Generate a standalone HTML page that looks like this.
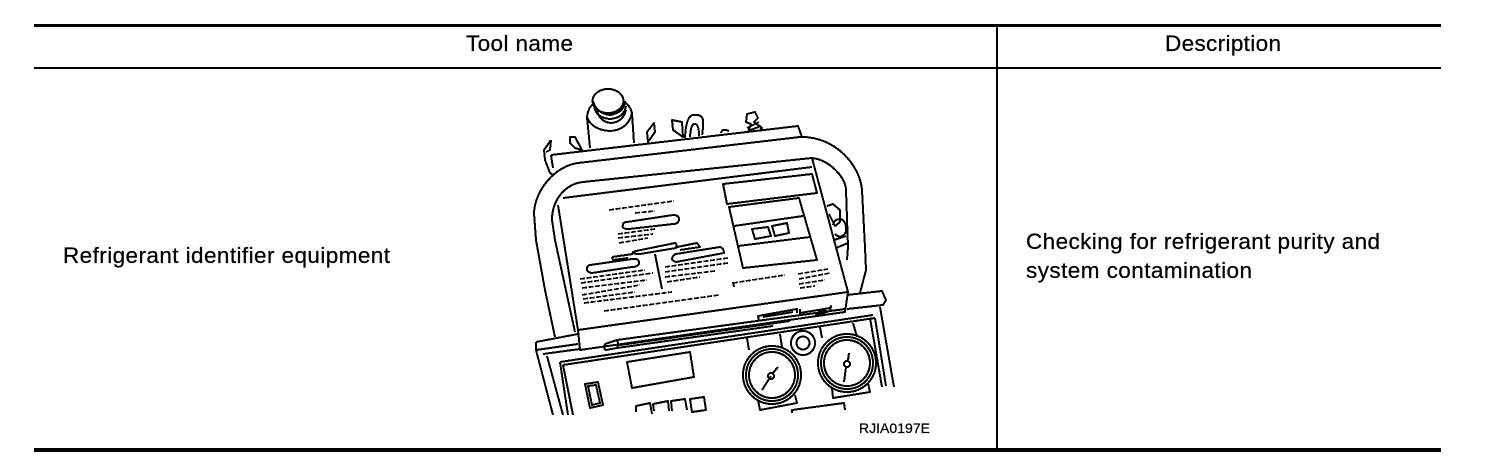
<!DOCTYPE html>
<html><head><meta charset="utf-8"><style>
html,body{margin:0;padding:0;background:#fff}
svg{display:block}
text{font-family:"Liberation Sans",sans-serif;font-size:22.500px;fill:#000;stroke:#000;stroke-width:.25}
.d path,.d polyline,.d line,.d circle,.d ellipse{fill:none;stroke:#000;stroke-width:2;stroke-linejoin:round}
.d .t{stroke-dasharray:5 1.5;stroke-width:1.7}
</style></head><body>
<svg width="1504" height="456" viewBox="0 0 1504 456" xmlns="http://www.w3.org/2000/svg">
<rect width="1504" height="456" fill="#fff"/>
<rect x="34" y="24" width="1407" height="3"/>
<rect x="34" y="67" width="1407" height="2"/>
<rect x="34" y="448" width="1407" height="4"/>
<rect x="996" y="24" width="2" height="426"/>
<text x="466" y="51" textLength="107">Tool name</text>
<text x="1165" y="51" textLength="116">Description</text>
<text x="63" y="263" textLength="327">Refrigerant identifier equipment</text>
<text x="1026" y="249" textLength="354">Checking for refrigerant purity and</text>
<text x="1026" y="278" textLength="226">system contamination</text>
<text x="859" y="433" style="font-size:14px" textLength="71">RJIA0197E</text>
<g class="d" shape-rendering="crispEdges">
<!-- cylinder -->
<path d="M590 148L587 117Q588 108 593 104M632 113L634 143M632 113Q630 105 624 102"/>
<path d="M594 106Q596 118 610 119Q624 118 626 106M593 101Q596 113 610 115Q624 113 625 101M597 111Q600 122 611 123Q623 122 626 110M587 117Q592 130 610 131Q628 130 632 113"/>
<ellipse cx="608" cy="101" rx="15.500" ry="12"/>
<!-- leaves -->
<path d="M551 140L544 150L545 160L550 173L553 175M551 140L550 150L546 152"/>
<path d="M570 137L575 137L582 150L575 148L570 143Z"/>
<path d="M654 123L647 132L648 142L655 132Z"/>
<path d="M672 120L682 122L683 137L673 130Z"/>
<path d="M685 138Q686 116 693 115Q702 114 703 120Q703 132 702 135M690 137Q691 123 695 124Q699 124 699 136"/>
<path d="M721 133Q722 129 726 130L729 131"/>
<!-- top fitting -->
<path d="M748 132L751 124L746 122L747 114L755 112L758 118L754 122L762 128L760 129M747 128L759 122M748 131L761 126"/>
<!-- back panel -->
<path d="M551 155L798 126L802 137"/>
<path d="M551 155L553 168"/>
<!-- tube outer -->
<path d="M545 290L536 240L534 213C535 190 555 166 578 163L800 137C835 136 860 165 862 190L865 247L866 270L860 293"/>
<path d="M545 290L555 337"/>
<!-- tube inner -->
<path d="M575 332L555 240L552 220C552 200 565 184 583 182L812 158C830 160 846 178 846 190L848 247L847 260"/>
<!-- fitting right -->
<path d="M827 206L833 204L840 210L840 222L835 226L829 214M833 225Q834 219 841 219Q847 222 846 232Q841 240 835 234M834 240L846 236M836 248L848 243"/>
<!-- panel -->
<path d="M563 198L812 167"/>
<path d="M558 205L578 330L848 292L812 158"/>
<path d="M578 330L580 350L845 312L848 292"/>
<!-- lip slot -->
<path d="M605 344L617 340L845 309M617 348L773 326M605 344Q603 349 606 350L617 348Q619 344 617 340"/>
<path d="M620 345L790 321"/>
<path d="M759 321L758 316L797 309L797 313M763 317L793 312M800 309L800 313L830 308L831 306L830 311L815 315"/>
<path d="M816 316Q820 308 826 311L822 316"/>
<!-- display -->
<path d="M723 184L812 174L817 193L727 204Z"/>
<path d="M729 207L799 198L817 260L743 268Z"/>
<path d="M734 226L803 216M738 246L810 237"/>
<path d="M752 229L768 227L771 236L755 239Z"/>
<path d="M772 226L787 223L789 233L775 236Z"/>
<!-- left panel info -->
<line class="t" x1="609" y1="210" x2="674" y2="201"/>
<line class="t" x1="635" y1="213" x2="655" y2="211"/>
<path d="M627 222L673 215Q679 215 679 219Q679 224 673 224L629 229Q621 229 623 225Q623 222 627 222Z"/>
<line class="t" x1="618" y1="234" x2="655" y2="229"/>
<line class="t" x1="618" y1="238" x2="653" y2="234"/>
<line class="t" x1="619" y1="243" x2="648" y2="238"/>
<path d="M636 251L675 243Q677 243 676 248L640 254Q632 254 633 252Z"/>
<path d="M612 257L633 254M612 257L613 260L628 258M677 247L697 243L700 247L680 250"/>
<path d="M590 265L632 259Q640 258 639 264Q637 267 632 267L592 273Q586 272 587 268Q587 266 590 265Z"/>
<path d="M676 254L720 247Q724 248 724 253L676 262Q671 260 672 258Q673 255 676 254Z"/>
<path d="M655 254L662 289"/>
<line class="t" x1="580" y1="279" x2="645" y2="270"/>
<line class="t" x1="581" y1="283" x2="653" y2="273"/>
<line class="t" x1="582" y1="288" x2="647" y2="280"/>
<line class="t" x1="582" y1="295" x2="640" y2="285"/>
<line class="t" x1="583" y1="299" x2="635" y2="292"/>
<line class="t" x1="584" y1="303" x2="672" y2="292"/>
<line class="t" x1="604" y1="311" x2="719" y2="295"/>
<line class="t" x1="665" y1="267" x2="728" y2="258"/>
<line class="t" x1="665" y1="272" x2="728" y2="263"/>
<line class="t" x1="665" y1="277" x2="715" y2="271"/>
<line class="t" x1="667" y1="282" x2="700" y2="277"/>
<path d="M733 282L734 287"/>
<line class="t" x1="733" y1="283" x2="785" y2="275"/>
<line class="t" x1="798" y1="274" x2="828" y2="269"/>
<line class="t" x1="799" y1="279" x2="830" y2="273"/>
<line class="t" x1="799" y1="284" x2="825" y2="280"/>
<line class="t" x1="800" y1="288" x2="815" y2="286"/>
<!-- base -->
<path d="M536 342L578 334M536 342L536 350L578 344M536 350L553 415"/>
<path d="M543 354L580 349"/>
<path d="M547 356L563 415"/>
<path d="M560 362L873 315M560 362L568 415M563 365L875 318M563 365L573 415"/>
<path d="M847 295L882 291L886 300L883 305L847 309"/>
<path d="M870 318L882 387M875 318L886 386M880 307L894 387"/>
<path d="M627 362L690 352L694 377L632 388Z"/>
<path d="M585 384L598 382L603 405L590 408Z"/>
<path d="M588 386L596 385L600 403L592 405Z"/>
<path d="M636 412L636 406L650 403L652 414M654 411L653 404L668 401L669 411M672 411L671 401L685 399L687 410M690 399L704 397L706 410L692 412Z"/>
<!-- gauges -->
<path d="M747 338L749 350M780 334L782 347M758 400L760 410L797 403L795 395"/>
<path d="M820 327L822 338M853 323L857 337M832 388L833 398L870 392L868 383"/>
<path d="M792 413L792 410L844 403L845 410"/>
<circle cx="803" cy="343" r="12"/>
<circle cx="803" cy="343" r="6.500"/>
<circle cx="772" cy="375" r="29"/>
<circle cx="772" cy="375" r="26"/>
<circle cx="772" cy="375" r="23"/>
<circle cx="847" cy="363" r="29"/>
<circle cx="847" cy="363" r="26"/>
<circle cx="847" cy="363" r="23"/>
<path d="M762 390L771 376M773 373L778 367" stroke-width="2.400"/>
<circle cx="771" cy="376" r="3"/>
<path d="M844 382L846 367M848 360L849 353" stroke-width="2.400"/>
<circle cx="847" cy="364" r="3"/>
</g>
</svg>
</body></html>
